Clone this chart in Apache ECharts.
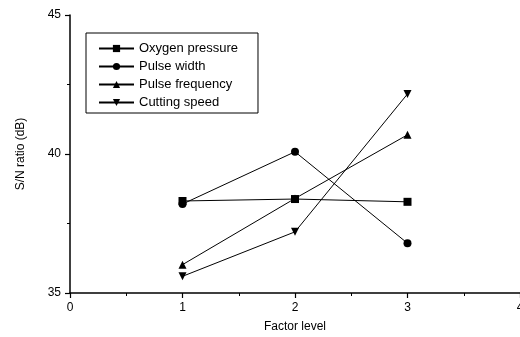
<!DOCTYPE html>
<html><head><meta charset="utf-8">
<script src="https://cdn.jsdelivr.net/npm/echarts@6/dist/echarts.min.js"></script>
<style>html,body{margin:0;padding:0;background:#fff}#c{width:520px;height:337px}</style>
</head><body><div id="c"></div>
<script>
var levels = [1, 2, 3];
var oxygenPressure = [38.31, 38.38, 38.28];
var pulseWidth = [38.2, 40.08, 36.79];
var pulseFrequency = [36.02, 38.4, 40.69];
var cuttingSpeed = [35.6, 37.2, 42.16];
var seriesNames = ['Oxygen pressure', 'Pulse width', 'Pulse frequency', 'Cutting speed'];
var symbols = ['rect', 'circle', 'triangle', 'path://M0,0 L10,0 L5,10 Z'];
var values = [oxygenPressure, pulseWidth, pulseFrequency, cuttingSpeed];
var font = 'Liberation Sans, Arial, sans-serif';

var chart = echarts.init(document.getElementById('c'), null, {renderer: 'canvas'});
var series = seriesNames.map(function (n, i) {
  return {
    name: n, type: 'line',
    data: levels.map(function (x, j) { return [x, values[i][j]]; }),
    symbol: symbols[i], symbolSize: 8,
    showAllSymbol: true,
    lineStyle: {color: '#000', width: 1},
    itemStyle: {color: '#000'},
    animation: false
  };
});
chart.setOption({
  backgroundColor: '#fff',
  animation: false,
  grid: {left: 70, right: 0, top: 15, bottom: 44, outerBoundsMode: 'none', containLabel: false},
  legend: {
    orient: 'vertical', left: 86, top: 33,
    width: 171,
    padding: [9, 20, 4, 12],
    itemWidth: 35, itemHeight: 9, itemGap: 5,
    borderColor: '#000', borderWidth: 1,
    textStyle: {fontFamily: font, fontSize: 13, color: '#000'},
    data: seriesNames
  },
  xAxis: {
    type: 'value', min: 0, max: 4, interval: 1,
    name: 'Factor level', nameLocation: 'middle', nameGap: 28,
    nameTextStyle: {fontFamily: font, fontSize: 12, color: '#000'},
    axisLine: {show: true, onZero: false, lineStyle: {color: '#000', width: 1.5}},
    axisTick: {show: true, length: 5, lineStyle: {color: '#000', width: 1.2}},
    minorTick: {show: true, splitNumber: 2, length: 3, lineStyle: {color: '#000', width: 1}},
    axisLabel: {fontFamily: font, fontSize: 12, color: '#000', margin: 9, showMaxLabel: true},
    splitLine: {show: false}
  },
  yAxis: {
    type: 'value', min: 35, max: 45, interval: 5,
    name: 'S/N ratio (dB)', nameLocation: 'middle', nameGap: 43, nameRotate: 90,
    nameTextStyle: {fontFamily: font, fontSize: 12, color: '#000'},
    axisLine: {show: true, onZero: false, lineStyle: {color: '#000', width: 1.5}},
    axisTick: {show: true, length: 5, lineStyle: {color: '#000', width: 1.2}},
    minorTick: {show: true, splitNumber: 2, length: 3, lineStyle: {color: '#000', width: 1}},
    axisLabel: {fontFamily: font, fontSize: 12, color: '#000', margin: 9},
    splitLine: {show: false}
  },
  series: series
});
</script></body></html>
